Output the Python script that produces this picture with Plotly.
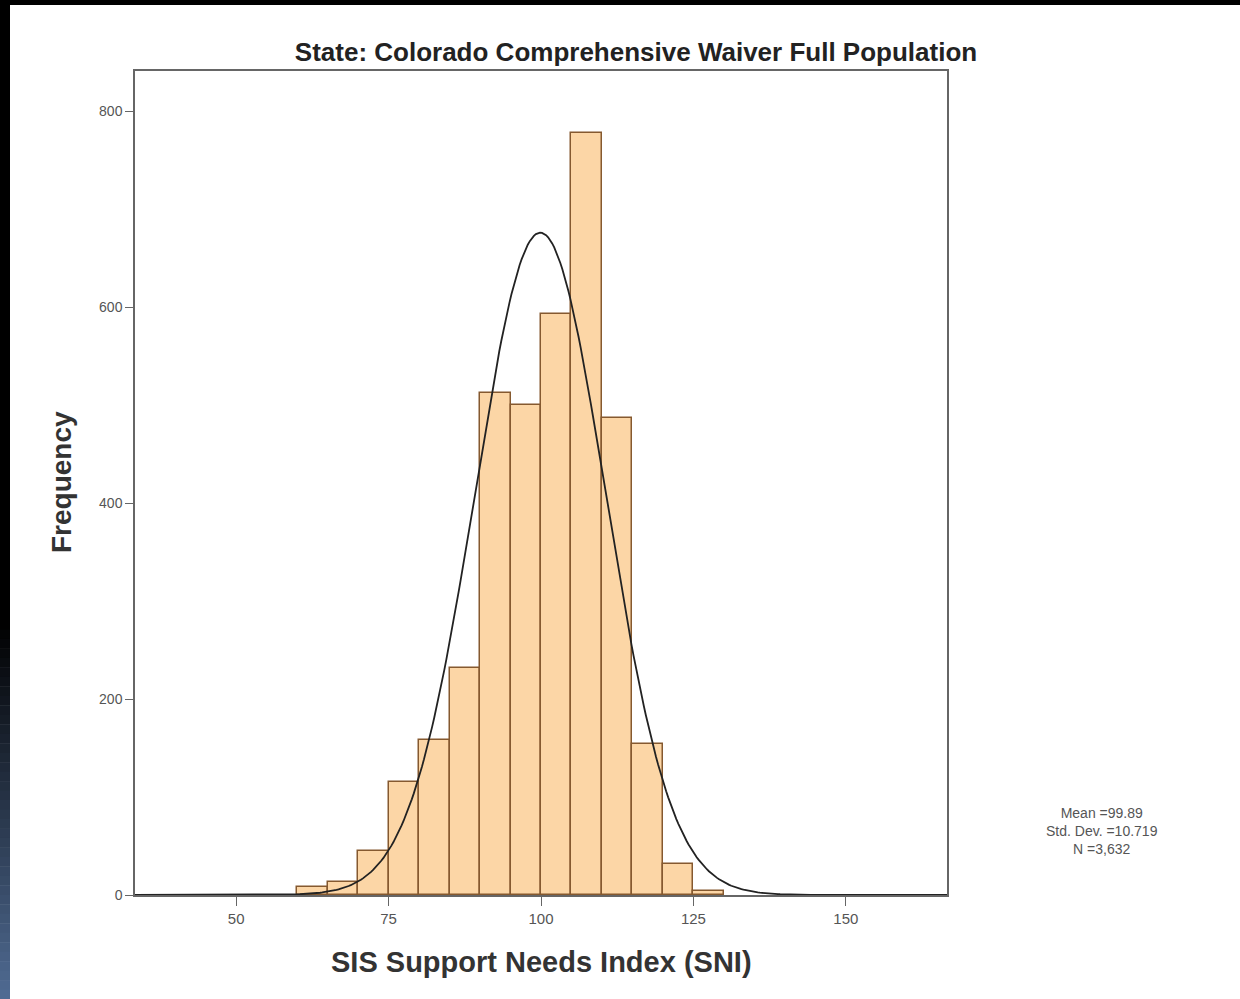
import numpy as np
import plotly.graph_objects as go

# ---- data ----
bin_left = [60, 65, 70, 75, 80, 85, 90, 95, 100, 105, 110, 115, 120, 125]
counts = [8, 13, 45, 115, 158, 232, 512, 500, 593, 778, 487, 154, 32, 4]
bin_width = 5
mean_val = 99.89
std_val = 10.719
n_val = 3632
x_ticks = [50, 75, 100, 125, 150]
y_ticks = [0, 200, 400, 600, 800]

W, H = 1240, 999
L, R, T, B = 135, 947, 71, 895  # plot area pixel box


def px(xp):
    return (xp - L) / (R - L)


def py(yp):
    return (B - yp) / (B - T)


centers = [b + bin_width / 2 for b in bin_left]

fig = go.Figure()
fig.add_trace(go.Bar(
    x=centers, y=counts, width=bin_width,
    marker=dict(color="#FCD6A6", line=dict(color="#85592f", width=1.5)),
    hoverinfo="x+y", showlegend=False,
))

xc = np.linspace(33.4, 166.6, 400)
yc = n_val * bin_width * np.exp(-0.5 * ((xc - mean_val) / std_val) ** 2) / (std_val * np.sqrt(2 * np.pi))
fig.add_trace(go.Scatter(x=xc, y=yc, mode="lines",
                         line=dict(color="#222222", width=1.8), showlegend=False))

shapes = []
# black top band and left band
shapes.append(dict(type="rect", xref="paper", yref="paper", x0=px(0), x1=px(W), y0=py(5), y1=py(0),
                   fillcolor="black", line=dict(width=0), layer="above"))
shapes.append(dict(type="rect", xref="paper", yref="paper", x0=px(0), x1=px(10), y0=py(620), y1=py(0),
                   fillcolor="black", line=dict(width=0), layer="above"))
# gradient on lower part of left band
c0 = np.array([0, 0, 0])
c1 = np.array([0x50, 0x6c, 0x94])
steps = 40
y_start, y_end = 620, 999
for i in range(steps):
    ya = y_start + (y_end - y_start) * i / steps
    yb = y_start + (y_end - y_start) * (i + 1) / steps
    t = (i + 0.5) / steps
    c = (c0 + (c1 - c0) * t).astype(int)
    shapes.append(dict(type="rect", xref="paper", yref="paper", x0=px(0), x1=px(10),
                       y0=py(yb + 0.5), y1=py(ya),
                       fillcolor="rgb(%d,%d,%d)" % tuple(c), line=dict(width=0), layer="above"))

annotations = [
    dict(xref="paper", yref="paper", x=px(1102), y=py(831), xanchor="center", yanchor="middle",
         text="Mean =99.89<br>Std. Dev. =10.719<br>N =3,632", showarrow=False, align="center",
         font=dict(size=14, color="#555555")),
    dict(xref="paper", yref="paper", x=px(541), y=py(962), xanchor="center", yanchor="middle",
         text="<b>SIS Support Needs Index (SNI)</b>", showarrow=False,
         font=dict(size=29, color="#333333")),
    dict(xref="paper", yref="paper", x=px(62), y=py(482), xanchor="center", yanchor="middle",
         text="<b>Frequency</b>", showarrow=False, textangle=-90,
         font=dict(size=28, color="#333333")),
]

fig.update_layout(
    width=W, height=H,
    margin=dict(l=L, r=W - R, t=T, b=H - B, pad=0),
    paper_bgcolor="white", plot_bgcolor="white",
    bargap=0,
    shapes=shapes,
    annotations=annotations,
    font=dict(family="Liberation Sans, Arial, sans-serif", color="#333333"),
    title=dict(text="<b>State: Colorado Comprehensive Waiver Full Population</b>",
               x=636 / W, xanchor="center", y=1 - 52 / H, yanchor="middle",
               font=dict(family="Liberation Sans, Arial, sans-serif",
                         size=26, color="#222222")),
    xaxis=dict(range=[33.4, 166.6], tickvals=x_ticks, ticks="outside", ticklen=9,
               tickcolor="#666666", showline=True, linecolor="#666666", linewidth=1.5, mirror=True,
               showgrid=False, zeroline=False, tickfont=dict(size=15, color="#555555")),
    yaxis=dict(range=[0, (B - T) / 0.98], tickvals=y_ticks, ticks="outside", ticklen=8,
               tickcolor="#666666", showline=True, linecolor="#666666", linewidth=1.5, mirror=True,
               showgrid=False, zeroline=False, tickfont=dict(size=14, color="#555555")),
)

fig.write_html("out.html")
